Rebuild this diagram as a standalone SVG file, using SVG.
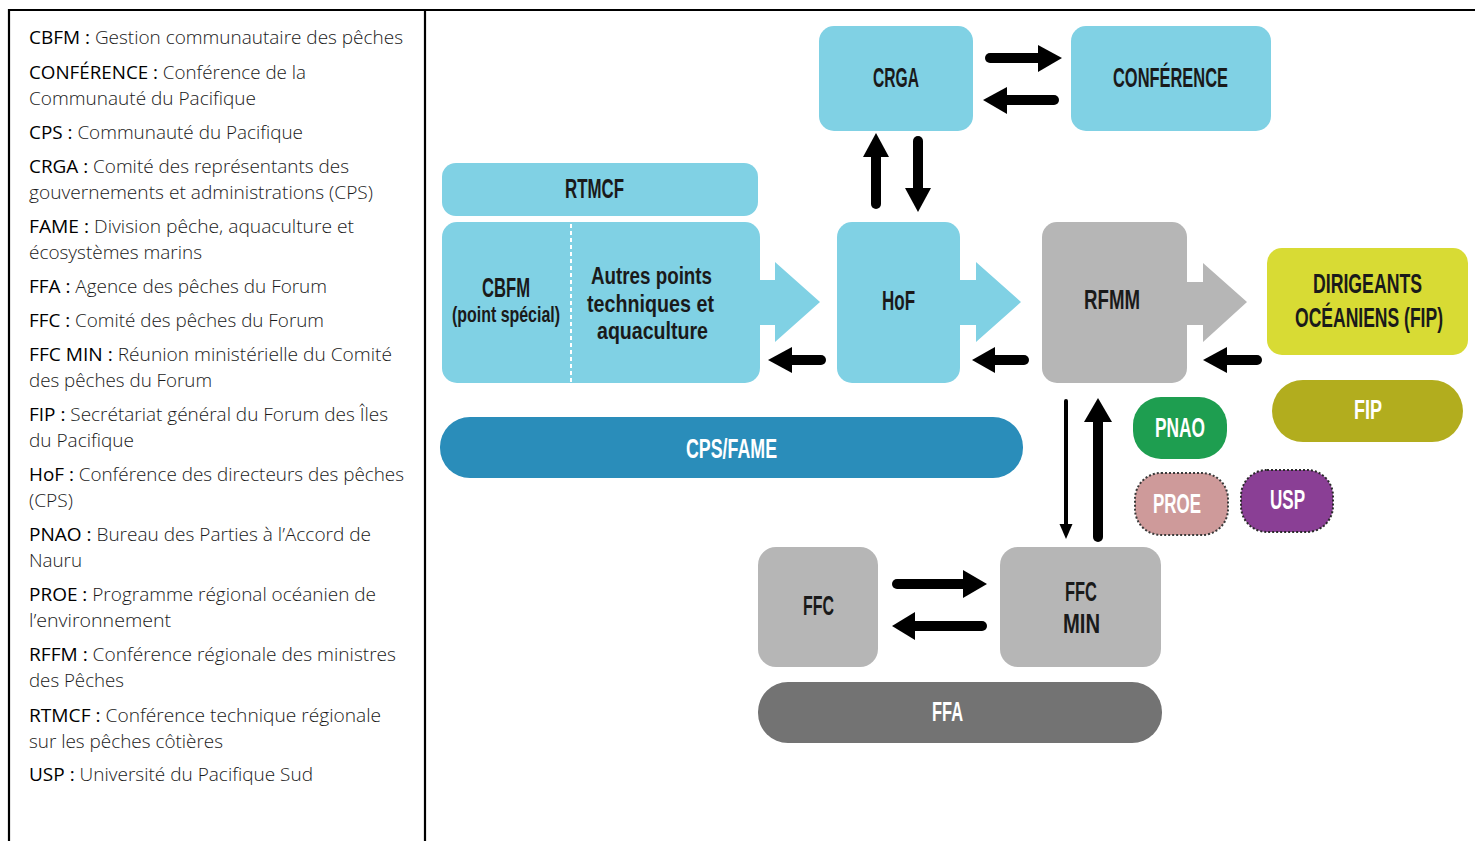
<svg xmlns="http://www.w3.org/2000/svg" width="1475" height="841" viewBox="0 0 1475 841">
<style>
.lg{font-family:"Open Sans","Noto Sans","Liberation Sans",sans-serif;font-size:18.5px;fill:#1a1a1a;font-weight:300}
.ab{font-weight:400;fill:#000}
.nt{font-family:"Liberation Sans","DejaVu Sans",sans-serif;font-weight:bold;font-size:27px;fill:#1a1a1a;text-anchor:middle}
.wt{fill:#ffffff}
.sm{font-size:22px}
.md{font-size:23px}
.blue{fill:#80D1E4}
.gray{fill:#B6B6B6}
.shaft{stroke:#000;stroke-width:10;stroke-linecap:round;fill:none}
.head{fill:#000}
.grid{stroke:#000;stroke-width:2.2;fill:none}
</style>
<rect width="1475" height="841" fill="#fff"/>
<g id="table">
<line class="grid" x1="8" y1="10" x2="1475" y2="10"/>
<line class="grid" x1="9" y1="9" x2="9" y2="841"/>
<line class="grid" x1="425" y1="9" x2="425" y2="841"/>
</g>
<g id="legend" class="lg">
<text x="29" y="44" textLength="374" lengthAdjust="spacingAndGlyphs"><tspan class="ab">CBFM :</tspan> Gestion communautaire des pêches</text>
<text x="29" y="79" textLength="277" lengthAdjust="spacingAndGlyphs"><tspan class="ab">CONFÉRENCE :</tspan> Conférence de la</text>
<text x="29" y="105" textLength="227" lengthAdjust="spacingAndGlyphs">Communauté du Pacifique</text>
<text x="29" y="139" textLength="274" lengthAdjust="spacingAndGlyphs"><tspan class="ab">CPS :</tspan> Communauté du Pacifique</text>
<text x="29" y="173" textLength="320" lengthAdjust="spacingAndGlyphs"><tspan class="ab">CRGA :</tspan> Comité des représentants des</text>
<text x="29" y="199" textLength="344" lengthAdjust="spacingAndGlyphs">gouvernements et administrations (CPS)</text>
<text x="29" y="233" textLength="325" lengthAdjust="spacingAndGlyphs"><tspan class="ab">FAME :</tspan> Division pêche, aquaculture et</text>
<text x="29" y="259" textLength="173" lengthAdjust="spacingAndGlyphs">écosystèmes marins</text>
<text x="29" y="293" textLength="298" lengthAdjust="spacingAndGlyphs"><tspan class="ab">FFA :</tspan> Agence des pêches du Forum</text>
<text x="29" y="327" textLength="295" lengthAdjust="spacingAndGlyphs"><tspan class="ab">FFC :</tspan> Comité des pêches du Forum</text>
<text x="29" y="361" textLength="363" lengthAdjust="spacingAndGlyphs"><tspan class="ab">FFC MIN :</tspan> Réunion ministérielle du Comité</text>
<text x="29" y="387" textLength="183" lengthAdjust="spacingAndGlyphs">des pêches du Forum</text>
<text x="29" y="421" textLength="359" lengthAdjust="spacingAndGlyphs"><tspan class="ab">FIP :</tspan> Secrétariat général du Forum des Îles</text>
<text x="29" y="447" textLength="105" lengthAdjust="spacingAndGlyphs">du Pacifique</text>
<text x="29" y="481" textLength="375" lengthAdjust="spacingAndGlyphs"><tspan class="ab">HoF :</tspan> Conférence des directeurs des pêches</text>
<text x="29" y="507" textLength="44" lengthAdjust="spacingAndGlyphs">(CPS)</text>
<text x="29" y="541" textLength="342" lengthAdjust="spacingAndGlyphs"><tspan class="ab">PNAO :</tspan> Bureau des Parties à l’Accord de</text>
<text x="29" y="567" textLength="53" lengthAdjust="spacingAndGlyphs">Nauru</text>
<text x="29" y="601" textLength="347" lengthAdjust="spacingAndGlyphs"><tspan class="ab">PROE :</tspan> Programme régional océanien de</text>
<text x="29" y="627" textLength="142" lengthAdjust="spacingAndGlyphs">l’environnement</text>
<text x="29" y="661" textLength="367" lengthAdjust="spacingAndGlyphs"><tspan class="ab">RFFM :</tspan> Conférence régionale des ministres</text>
<text x="29" y="687" textLength="95" lengthAdjust="spacingAndGlyphs">des Pêches</text>
<text x="29" y="722" textLength="352" lengthAdjust="spacingAndGlyphs"><tspan class="ab">RTMCF :</tspan> Conférence technique régionale</text>
<text x="29" y="748" textLength="194" lengthAdjust="spacingAndGlyphs">sur les pêches côtières</text>
<text x="29" y="781" textLength="284" lengthAdjust="spacingAndGlyphs"><tspan class="ab">USP :</tspan> Université du Pacifique Sud</text>
</g>
<g id="connectors">
<polygon class="blue" points="755,280 775,280 775,262 820,302 775,342 775,325 755,325"/>
<polygon class="blue" points="955,280 976,280 976,262 1021,302 976,342 976,325 955,325"/>
<polygon class="gray" points="1180,282 1203,282 1203,263 1247,302 1203,342 1203,325 1180,325"/>
<line class="shaft" x1="990" y1="58" x2="1040" y2="58"/><polygon class="head" points="1038,45 1062,58 1038,72"/>
<line class="shaft" x1="1054" y1="100" x2="1005" y2="100"/><polygon class="head" points="1007,87 983,100 1007,114"/>
<line class="shaft" x1="876" y1="204" x2="876" y2="155"/><polygon class="head" points="863,157 876,133 889,157"/>
<line class="shaft" x1="918" y1="141" x2="918" y2="190"/><polygon class="head" points="905,188 918,212 931,188"/>
<line class="shaft" x1="821" y1="360" x2="790" y2="360"/><polygon class="head" points="792,347 768,360 792,373"/>
<line class="shaft" x1="1024" y1="360" x2="993" y2="360"/><polygon class="head" points="995,347 972,360 995,373"/>
<line class="shaft" x1="1257" y1="360" x2="1225" y2="360"/><polygon class="head" points="1227,347 1203,360 1227,373"/>
<line x1="1066" y1="401" x2="1066" y2="527" stroke="#000" stroke-width="4" stroke-linecap="round"/><polygon class="head" points="1059.5,524 1066,539 1072.5,524"/>
<line class="shaft" x1="1098" y1="537" x2="1098" y2="420"/><polygon class="head" points="1084,422 1098,398 1112,422"/>
<line class="shaft" x1="897" y1="584" x2="965" y2="584"/><polygon class="head" points="963,570 987,584 963,598"/>
<line class="shaft" x1="982" y1="626" x2="913" y2="626"/><polygon class="head" points="915,612 892,626 915,640"/>
</g>
<g id="crga">
<rect class="blue" x="819" y="26" width="154" height="105" rx="15"/>
<text class="nt" transform="translate(896,87) scale(0.62,1)" textLength="74.2" lengthAdjust="spacingAndGlyphs">CRGA</text>
</g>
<g id="conference">
<rect class="blue" x="1071" y="26" width="200" height="105" rx="15"/>
<text class="nt" transform="translate(1170.5,87) scale(0.62,1)" textLength="185.5" lengthAdjust="spacingAndGlyphs">CONFÉRENCE</text>
</g>
<g id="rtmcf">
<rect class="blue" x="442" y="163" width="316" height="53" rx="14"/>
<text class="nt" transform="translate(594.5,198) scale(0.62,1)" textLength="95.2" lengthAdjust="spacingAndGlyphs">RTMCF</text>
</g>
<g id="cbfm">
<rect class="blue" x="442" y="222" width="318" height="161" rx="15"/>
<line x1="571" y1="224" x2="571" y2="382" stroke="#fff" stroke-width="2" stroke-dasharray="4,3"/>
<text class="nt" transform="translate(506,297) scale(0.62,1)" textLength="77.4" lengthAdjust="spacingAndGlyphs">CBFM</text>
<text class="nt sm" transform="translate(506,322) scale(0.62,1)" textLength="174.2" lengthAdjust="spacingAndGlyphs">(point spécial)</text>
<text class="nt md" transform="translate(651.5,284) scale(0.8,1)" textLength="151.25" lengthAdjust="spacingAndGlyphs">Autres points</text>
<text class="nt md" transform="translate(650.5,311.5) scale(0.8,1)" textLength="158.75" lengthAdjust="spacingAndGlyphs">techniques et</text>
<text class="nt md" transform="translate(652.5,339) scale(0.8,1)" textLength="138.75" lengthAdjust="spacingAndGlyphs">aquaculture</text>
</g>
<g id="hof">
<rect class="blue" x="837" y="222" width="123" height="161" rx="15"/>
<text class="nt" transform="translate(898.5,310) scale(0.62,1)" textLength="53.2" lengthAdjust="spacingAndGlyphs">HoF</text>
</g>
<g id="rfmm">
<rect class="gray" x="1042" y="222" width="145" height="161" rx="15"/>
<text class="nt" transform="translate(1112,309) scale(0.62,1)" textLength="90.3" lengthAdjust="spacingAndGlyphs">RFMM</text>
</g>
<g id="dirigeants">
<rect x="1267" y="248" width="201" height="107" rx="15" fill="#D8DB34"/>
<text class="nt" transform="translate(1367.5,293) scale(0.62,1)" textLength="175.8" lengthAdjust="spacingAndGlyphs">DIRIGEANTS</text>
<text class="nt" transform="translate(1369,327) scale(0.62,1)" textLength="238.7" lengthAdjust="spacingAndGlyphs">OCÉANIENS (FIP)</text>
</g>
<g id="fip">
<rect x="1272" y="380" width="191" height="62" rx="31" fill="#B2AD1E"/>
<text class="nt wt" transform="translate(1368,419) scale(0.62,1)" textLength="45.2" lengthAdjust="spacingAndGlyphs">FIP</text>
</g>
<g id="pnao">
<rect x="1133" y="397" width="94" height="62" rx="28" fill="#1E9E50"/>
<text class="nt wt" transform="translate(1180,437) scale(0.62,1)" textLength="80.6" lengthAdjust="spacingAndGlyphs">PNAO</text>
</g>
<g id="proe">
<rect x="1135" y="473" width="93" height="62" rx="26" fill="#CE9A9A" stroke="#3a3a3a" stroke-width="2" stroke-dasharray="2,2"/>
<text class="nt wt" transform="translate(1177,513) scale(0.62,1)" textLength="77.4" lengthAdjust="spacingAndGlyphs">PROE</text>
</g>
<g id="usp">
<rect x="1241" y="470" width="92" height="62" rx="26" fill="#8A3F95" stroke="#2a2a2a" stroke-width="2" stroke-dasharray="2,2"/>
<text class="nt wt" transform="translate(1287.5,509) scale(0.62,1)" textLength="56.5" lengthAdjust="spacingAndGlyphs">USP</text>
</g>
<g id="cpsfame">
<rect x="440" y="417" width="583" height="61" rx="30" fill="#2A8DBA"/>
<text class="nt wt" transform="translate(731.5,458) scale(0.62,1)" textLength="146.8" lengthAdjust="spacingAndGlyphs">CPS/FAME</text>
</g>
<g id="ffc">
<rect class="gray" x="758" y="547" width="120" height="120" rx="18"/>
<text class="nt" transform="translate(818.5,615) scale(0.62,1)" textLength="50" lengthAdjust="spacingAndGlyphs">FFC</text>
</g>
<g id="ffcmin">
<rect class="gray" x="1000" y="547" width="161" height="120" rx="18"/>
<text class="nt" transform="translate(1081,601) scale(0.62,1)" textLength="51.6" lengthAdjust="spacingAndGlyphs">FFC</text>
<text class="nt" transform="translate(1081.5,633) scale(0.62,1)" textLength="59.7" lengthAdjust="spacingAndGlyphs">MIN</text>
</g>
<g id="ffa">
<rect x="758" y="682" width="404" height="61" rx="30" fill="#737373"/>
<text class="nt wt" transform="translate(947.5,721) scale(0.62,1)" textLength="50" lengthAdjust="spacingAndGlyphs">FFA</text>
</g>
</svg>
